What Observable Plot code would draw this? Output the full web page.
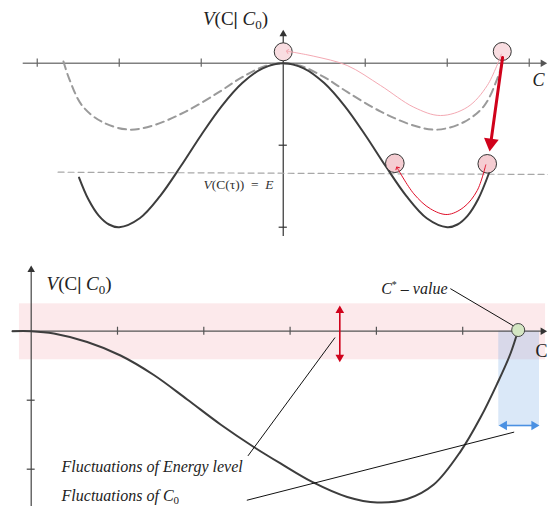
<!DOCTYPE html>
<html>
<head>
<meta charset="utf-8">
<script src="https://cdn.jsdelivr.net/npm/d3@7"></script>
<script src="https://cdn.jsdelivr.net/npm/@observablehq/plot@0.6"></script>
<style>
  body { margin: 0; background: #fff; }
  #chart svg { display: block; }
</style>
</head>
<body>
<div id="chart"></div>
<script>
// ---------- TOP PANEL DATA (units: one tick = 1) ----------
const topTicksX = [-3, -2, -1, 1, 2, 3];
const topTicksY = [-1, -2];
const wellU = [-2.49, -2.375, -2.25, -2.125, -2, -1.75, -1.5, -1.25, -1, -0.75, -0.5, -0.25, 0, 0.25, 0.5, 0.75, 1, 1.25, 1.5, 1.75, 2, 2.125, 2.25, 2.375, 2.51];
const wellV = [-1.395, -1.663, -1.859, -1.967, -2, -1.890, -1.617, -1.257, -0.875, -0.523, -0.242, -0.062, 0, -0.062, -0.242, -0.523, -0.875, -1.257, -1.617, -1.890, -2, -1.967, -1.859, -1.663, -1.339];
const dashU = [-2.68, -2.61, -2.45, -2.2, -1.88, -1.59, -1.19, -0.78, -0.5, -0.21, 0, 0.21, 0.5, 0.78, 1.19, 1.59, 1.88, 2.2, 2.45, 2.61, 2.68];
const dashV = [0.02, -0.19, -0.52, -0.72, -0.81, -0.76, -0.59, -0.35, -0.17, -0.032, -0.005, -0.032, -0.17, -0.35, -0.59, -0.76, -0.81, -0.72, -0.52, -0.19, 0.02];
const pinkU = [2.66, 2.488, 2.244, 1.918, 1.593, 1.187, 0.78, 0.373, 0.05];
const pinkV = [0.11, -0.272, -0.537, -0.638, -0.537, -0.272, -0.028, 0.085, 0.146];
const redU = [2.47, 2.366, 2.202, 2.0, 1.796, 1.593, 1.39];
const redV = [-1.24, -1.552, -1.756, -1.845, -1.776, -1.593, -1.276];
const energyU = [-2.746, 3.235];
const energyV = [-1.329, -1.357];
const topCircleU = [0, 2.671];
const topCircleV = [0.139, 0.143];
const lowCircleU = [1.361, 2.488];
const lowCircleV = [-1.22, -1.227];
const jumpU = [2.675, 2.531];
const jumpV = [0.07, -0.973];

// ---------- BOTTOM PANEL DATA ----------
const botTicksX = [1, 2, 3, 4, 5];
const botTicksY = [-1, -2];
const potU = [-0.217, 0, 0.262, 0.649, 1.035, 1.421, 1.808, 2.194, 2.579, 2.889, 3.256, 3.662, 4.009, 4.357, 4.665, 4.974, 5.206, 5.400, 5.554, 5.643];
const potV = [0, 0, -0.033, -0.157, -0.352, -0.635, -0.990, -1.352, -1.678, -1.917, -2.185, -2.403, -2.483, -2.433, -2.223, -1.745, -1.252, -0.759, -0.323, 0.017];
const energyBand = {u1: -0.136, u2: 5.96, v1: -0.414, v2: 0.397};
const c0Band = {u1: 5.418, u2: 5.89, v1: -1.381, v2: 0};
const cStar = {u: 5.643, v: 0.017};
const redArrowU = 3.576, redArrowV = [0.300, -0.377];
const blueArrowV = -1.367, blueArrowU = [5.481, 5.827];
const leaderCStar = [[4.861, 0.614], [5.614, 0.058]];
const leaderEnergy = [[3.518, -0.096], [2.514, -1.803]];
const leaderC0 = [[5.592, -1.464], [2.503, -2.449]];

const serif = "Liberation Serif, Times New Roman, serif";
const pts = (us, vs) => us.map((u, i) => ({u, v: vs[i]}));

const rich = {
  "V(C| C0)": '<tspan font-style="italic">V</tspan>(C<tspan font-weight="bold">|</tspan> <tspan font-style="italic">C</tspan><tspan dy="4" font-size="13">0</tspan><tspan dy="-4">)</tspan>',
  "V(C(τ)) = E": '<tspan font-style="italic">V</tspan>(C(τ))\u2002=\u2002<tspan font-style="italic">E</tspan>',
  "C* – value": '<tspan font-style="italic">C</tspan><tspan dy="-6" font-size="10">*</tspan><tspan dy="6"> – </tspan><tspan font-style="italic">value</tspan>',
  "Fluctuations of C0": '<tspan font-style="italic">Fluctuations of C</tspan><tspan dy="3" font-size="11">0</tspan>'
};
function richify(svg) {
  svg.querySelectorAll("text").forEach(t => {
    const k = t.textContent;
    if (rich[k]) t.innerHTML = rich[k];
  });
}

// ---------- TOP PLOT ----------
const topPlot = Plot.plot({
  width: 548, height: 250,
  marginTop: 0, marginRight: 0, marginBottom: 0, marginLeft: 0,
  x: {domain: [-3.448, 3.235], axis: null},
  y: {domain: [-2.284, 0.7646], axis: null},
  marks: [
    Plot.ruleY([0], {x1: -3.171, x2: 3.17, stroke: "#808080", strokeWidth: 1.6}),
    Plot.dot([0], {x: 3.166, y: 0, symbol: "triangle", r: 2.8, rotate: 90, fill: "#555", stroke: "none"}),
    Plot.ruleX(topTicksX, {x: d => d, y1: -0.05, y2: 0.05, stroke: "#666", strokeWidth: 1.2}),
    Plot.ruleX([0], {y1: -2.113, y2: 0.36, stroke: "#333", strokeWidth: 1.2}),
    Plot.dot([0], {x: 0, y: 0.354, symbol: "triangle", r: 2.8, fill: "#333", stroke: "none"}),
    Plot.ruleY(topTicksY, {y: d => d, x1: -0.05, x2: 0.05, stroke: "#333", strokeWidth: 1.2}),
    Plot.line(pts(energyU, energyV), {x: "u", y: "v", stroke: "#a8a8a8", strokeWidth: 1.2, strokeDasharray: "6,4"}),
    Plot.line(pts(dashU, dashV), {x: "u", y: "v", curve: "catmull-rom", stroke: "#9a9a9a", strokeWidth: 2, strokeDasharray: "8,5"}),
    Plot.line(pts(wellU, wellV), {x: "u", y: "v", curve: "catmull-rom", stroke: "#3d3d3d", strokeWidth: 2}),
    Plot.dot(pts(topCircleU, topCircleV), {x: "u", y: "v", r: 9, fill: "#f9dde1", stroke: "#333", strokeWidth: 1}),
    Plot.dot(pts(lowCircleU, lowCircleV), {x: "u", y: "v", r: 9.3, fill: "#f5cdd2", stroke: "#333", strokeWidth: 1}),
    Plot.line(pts(pinkU, pinkV), {x: "u", y: "v", curve: "catmull-rom", stroke: "#f4a9b3", strokeWidth: 1, markerEnd: "arrow"}),
    Plot.line(pts(redU, redV), {x: "u", y: "v", curve: "catmull-rom", stroke: "#e0102a", strokeWidth: 1, markerEnd: "arrow"}),
    Plot.line(pts(jumpU, jumpV), {x: "u", y: "v", stroke: "#d0021b", strokeWidth: 3}),
    Plot.dot([0], {x: 2.531, y: -0.973, symbol: "triangle", r: 5.5, rotate: 188, fill: "#d0021b", stroke: "none"}),
    Plot.text(["V(C| C0)"], {x: -0.582, y: 0.545, text: d => d, fontFamily: serif, fontSize: 19, fill: "#222"}),
    Plot.text(["C"], {x: 3.113, y: -0.211, text: d => d, fontFamily: serif, fontSize: 18, fontStyle: "italic", fill: "#222"}),
    Plot.text(["V(C(τ)) = E"], {x: -0.545, y: -1.479, text: d => d, fontFamily: serif, fontSize: 13.5, fill: "#333"})
  ]
});

// ---------- BOTTOM PLOT ----------
const bottomPlot = Plot.plot({
  width: 548, height: 256,
  marginTop: 0, marginRight: 0, marginBottom: 0, marginLeft: 0,
  x: {domain: [-0.3557, 5.9942], axis: null},
  y: {domain: [-2.541, 1.170], axis: null},
  marks: [
    Plot.rect([energyBand], {x1: "u1", x2: "u2", y1: "v1", y2: "v2", fill: "rgb(240,160,168)", fillOpacity: 0.23}),
    Plot.rect([c0Band], {x1: "u1", x2: "u2", y1: "v1", y2: "v2", fill: "rgb(120,170,230)", fillOpacity: 0.27}),
    Plot.ruleY([0], {x1: -0.217, x2: 5.93, stroke: "#555", strokeWidth: 1.2}),
    Plot.dot([0], {x: 5.928, y: 0, symbol: "triangle", r: 2.8, rotate: 90, fill: "#333", stroke: "none"}),
    Plot.ruleX(botTicksX, {x: d => d, y1: -0.058, y2: 0.058, stroke: "#555", strokeWidth: 1.2}),
    Plot.ruleX([0], {y1: -2.541, y2: 0.9, stroke: "#444", strokeWidth: 1.2}),
    Plot.dot([0], {x: 0, y: 0.890, symbol: "triangle", r: 2.8, fill: "#333", stroke: "none"}),
    Plot.ruleY(botTicksY, {y: d => d, x1: -0.046, x2: 0.046, stroke: "#444", strokeWidth: 1.2}),
    Plot.line(pts(potU, potV), {x: "u", y: "v", curve: "catmull-rom", stroke: "#3d3d3d", strokeWidth: 2}),
    Plot.line(leaderCStar, {stroke: "#111", strokeWidth: 1}),
    Plot.line(leaderEnergy, {stroke: "#111", strokeWidth: 1}),
    Plot.line(leaderC0, {stroke: "#111", strokeWidth: 1}),
    Plot.ruleX([redArrowU], {x: d => d, y1: redArrowV[1], y2: redArrowV[0], stroke: "#d0021b", strokeWidth: 1.6}),
    Plot.dot([0], {x: redArrowU, y: redArrowV[0], symbol: "triangle", r: 3.2, fill: "#d0021b", stroke: "none"}),
    Plot.dot([0], {x: redArrowU, y: redArrowV[1], symbol: "triangle", r: 3.2, rotate: 180, fill: "#d0021b", stroke: "none"}),
    Plot.ruleY([blueArrowV], {y: d => d, x1: blueArrowU[0], x2: blueArrowU[1], stroke: "#4a90e2", strokeWidth: 1.6}),
    Plot.dot([0], {x: blueArrowU[0], y: blueArrowV, symbol: "triangle", r: 3.5, rotate: 270, fill: "#4a90e2", stroke: "none"}),
    Plot.dot([0], {x: blueArrowU[1], y: blueArrowV, symbol: "triangle", r: 3.5, rotate: 90, fill: "#4a90e2", stroke: "none"}),
    Plot.dot([cStar], {x: "u", y: "v", r: 6.5, fill: "#d4e6c3", stroke: "#444", strokeWidth: 1}),
    Plot.text(["V(C| C0)"], {x: 0.555, y: 0.691, text: d => d, fontFamily: serif, fontSize: 19, fill: "#222"}),
    Plot.text(["C"], {x: 5.913, y: -0.287, text: d => d, fontFamily: serif, fontSize: 18, fill: "#222"}),
    Plot.text(["C* – value"], {x: 4.824, y: 0.619, text: d => d, textAnchor: "end", fontFamily: serif, fontSize: 16, fill: "#222"}),
    Plot.text(["Fluctuations of Energy level"], {x: 0.352, y: -1.971, text: d => d, textAnchor: "start", fontFamily: serif, fontSize: 16, fontStyle: "italic", fill: "#222"}),
    Plot.text(["Fluctuations of C0"], {x: 0.352, y: -2.39, text: d => d, textAnchor: "start", fontFamily: serif, fontSize: 16, fill: "#222"})
  ]
});

richify(topPlot);
richify(bottomPlot);
document.getElementById("chart").append(topPlot, bottomPlot);
</script>
</body>
</html>
